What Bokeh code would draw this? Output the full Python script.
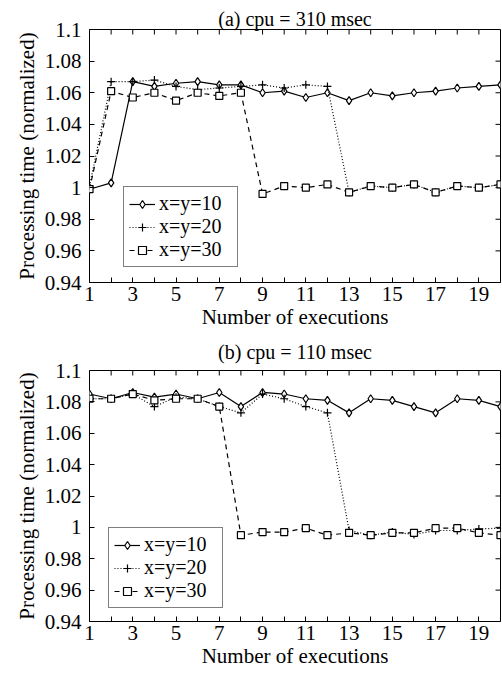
import math
from bokeh.plotting import figure
from bokeh.layouts import gridplot
from bokeh.models import FixedTicker, Range1d, Title, Legend, LegendItem
from bokeh.embed import file_html
from bokeh.resources import INLINE

executions = list(range(1, 21))

a_xy10 = [0.999, 1.003, 1.067, 1.064, 1.066, 1.067, 1.065, 1.065, 1.060, 1.061,
          1.057, 1.060, 1.055, 1.060, 1.058, 1.060, 1.061, 1.063, 1.064, 1.065]
a_xy20 = [1.001, 1.067, 1.067, 1.068, 1.064, 1.062, 1.063, 1.064, 1.065, 1.063,
          1.065, 1.064, 0.997, 1.001, 1.000, 1.002, 0.997, 1.001, 1.000, 1.002]
a_xy30 = [0.999, 1.061, 1.057, 1.060, 1.055, 1.060, 1.058, 1.060, 0.996, 1.001,
          1.000, 1.002, 0.997, 1.001, 1.000, 1.002, 0.997, 1.001, 1.000, 1.002]

b_xy10 = [1.085, 1.082, 1.086, 1.083, 1.085, 1.082, 1.086, 1.077, 1.086, 1.085,
          1.082, 1.081, 1.073, 1.082, 1.081, 1.077, 1.073, 1.082, 1.081, 1.077]
b_xy20 = [1.082, 1.082, 1.085, 1.077, 1.083, 1.082, 1.077, 1.073, 1.085, 1.082,
          1.077, 1.073, 0.998, 0.995, 0.997, 0.9955, 0.998, 0.998, 0.999, 0.9995]
b_xy30 = [1.082, 1.082, 1.085, 1.081, 1.082, 1.082, 1.077, 0.995, 0.997, 0.997,
          0.9995, 0.995, 0.9965, 0.995, 0.9965, 0.9965, 0.9995, 0.9995, 0.9965, 0.995]

y_ticks = [0.94, 0.96, 0.98, 1.0, 1.02, 1.04, 1.06, 1.08, 1.1]
y_labels = ["0.94", "0.96", "0.98", "1", "1.02", "1.04", "1.06", "1.08", "1.1"]
x_ticks = list(range(1, 21))
x_labels = [str(t) if t % 2 == 1 else "" for t in x_ticks]

series_names = ["x=y=10", "x=y=20", "x=y=30"]

FONT = "Times New Roman"
FS = "21px"


def style_axis(ax):
    ax.axis_line_color = None
    ax.major_tick_in = 5
    ax.major_tick_out = 0
    ax.minor_tick_in = 0
    ax.minor_tick_out = 0
    ax.major_tick_line_color = "black"
    ax.major_label_text_font = FONT
    ax.major_label_text_font_size = FS
    ax.major_label_text_color = "black"
    ax.axis_label_text_font = FONT
    ax.axis_label_text_font_size = FS
    ax.axis_label_text_font_style = "normal"
    ax.axis_label_text_color = "black"


def make(title, s10, s20, s30, frame_h, top_border, legend_loc, title_standoff):
    p = figure(frame_width=411, frame_height=frame_h, output_backend="svg",
               toolbar_location=None,
               x_range=Range1d(1, 20), y_range=Range1d(0.94, 1.1),
               min_border_left=89, min_border_right=2, min_border_top=top_border,
               min_border_bottom=0, title=None)
    p.add_layout(Title(text=title, align="center", text_font=FONT, text_font_size="20px",
                       text_font_style="normal", text_color="black",
                       text_line_height=1.0, standoff=title_standoff), "above")
    p.grid.visible = False
    p.outline_line_color = "black"
    p.outline_line_width = 1
    p.background_fill_color = "white"
    p.border_fill_color = "white"

    p.xaxis.ticker = FixedTicker(ticks=x_ticks)
    p.xaxis.major_label_overrides = {t: l for t, l in zip(x_ticks, x_labels)}
    p.yaxis.ticker = FixedTicker(ticks=y_ticks)
    p.yaxis.major_label_overrides = {t: l for t, l in zip(y_ticks, y_labels)}
    p.xaxis.axis_label = "Number of executions"
    p.yaxis.axis_label = "Processing time (normalized)"
    style_axis(p.xaxis[0])
    style_axis(p.yaxis[0])
    p.xaxis.major_label_standoff = 4
    p.yaxis.major_label_standoff = 8
    p.xaxis.axis_label_standoff = 1
    p.yaxis.axis_label_standoff = 3

    # mirrored ticks on the right and top borders
    p.ray(x=[20] * len(y_ticks), y=y_ticks, length=5, angle=math.pi,
          length_units="screen", line_color="black", line_width=1)
    p.ray(x=x_ticks, y=[1.1] * len(x_ticks), length=5, angle=-math.pi / 2,
          length_units="screen", line_color="black", line_width=1)

    l1 = p.line(executions, s10, line_color="black", line_width=1.2)
    m1 = p.scatter(executions, s10, marker="diamond", size=8, fill_color="white",
                   line_color="black", line_width=1.2)
    l2 = p.line(executions, s20, line_color="black", line_width=1.2, line_dash="1 2")
    m2 = p.scatter(executions, s20, marker="cross", size=8, line_color="black",
                   line_width=1.2)
    l3 = p.line(executions, s30, line_color="black", line_width=1.2, line_dash="5 4")
    m3 = p.scatter(executions, s30, marker="square", size=7, fill_color="white",
                   line_color="black", line_width=1.2)

    legend = Legend(items=[LegendItem(label=series_names[0], renderers=[l1, m1]),
                           LegendItem(label=series_names[1], renderers=[l2, m2]),
                           LegendItem(label=series_names[2], renderers=[l3, m3])],
                    location=legend_loc, label_text_font=FONT, label_text_font_size="20px",
                    label_text_color="black", border_line_color="black",
                    border_line_width=1, background_fill_alpha=1, padding=5,
                    spacing=0, margin=0, glyph_width=26, glyph_height=20,
                    label_standoff=4, label_height=20, label_width=73)
    p.add_layout(legend, "center")
    return p


p1 = make("(a) cpu = 310 msec", a_xy10, a_xy20, a_xy30, 253, 29, (34, 15), 0)
p2 = make("(b) cpu = 110 msec", b_xy10, b_xy20, b_xy30, 251, 38, (19, 13), 15)

grid = gridplot([p1, p2], ncols=1, toolbar_location=None)
open("out.html", "w").write(file_html(grid, INLINE))
